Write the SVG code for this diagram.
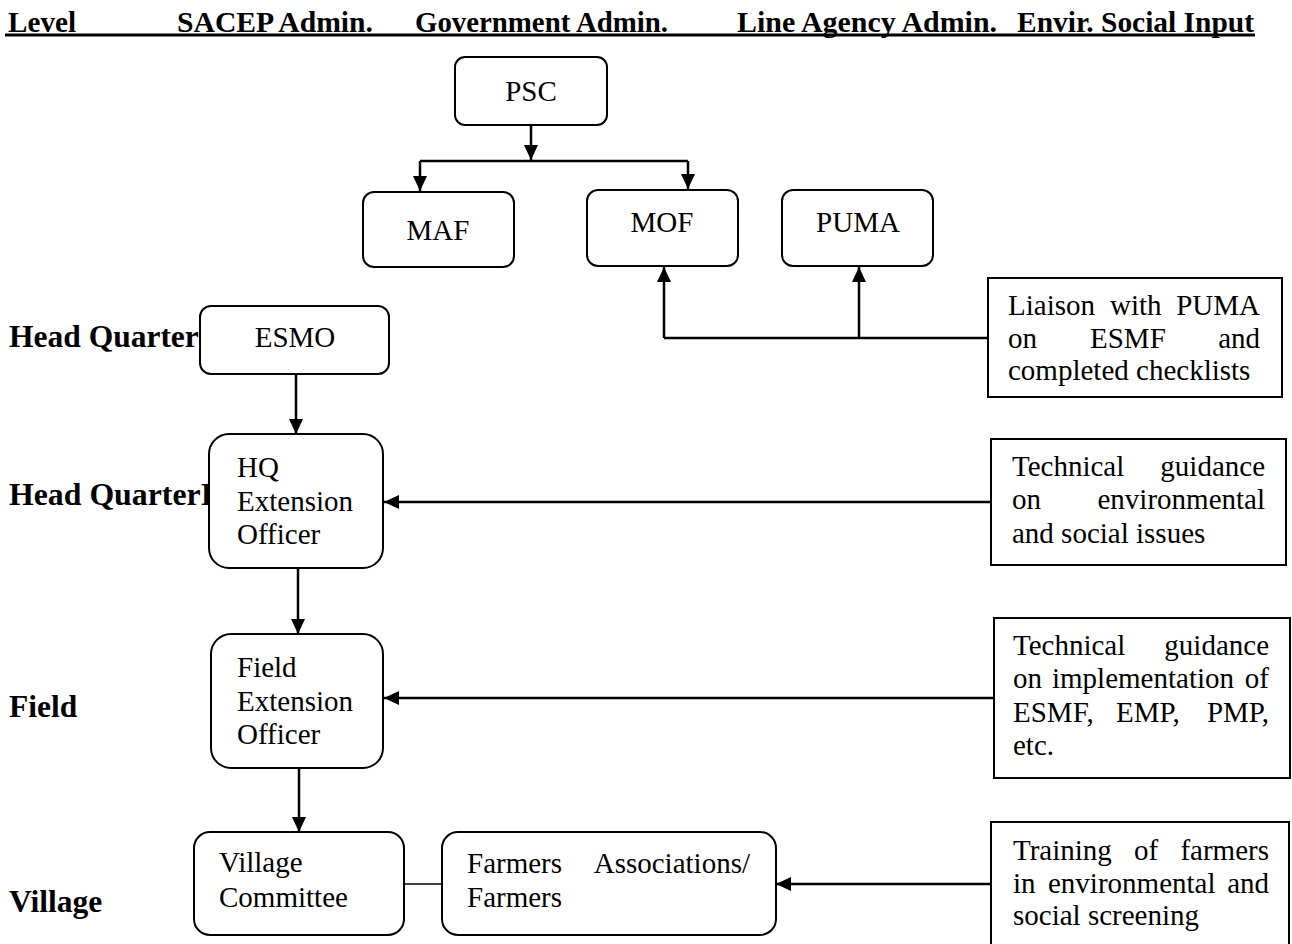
<svg xmlns="http://www.w3.org/2000/svg" width="1292" height="944" viewBox="0 0 1292 944">
<style>
text{font-family:"Liberation Serif","Times New Roman",serif;fill:#000}
.hd{font-size:29px;font-weight:bold}
.lv{font-size:31.5px;font-weight:bold}
.t{font-size:29px}
.box{fill:#fff;stroke:#000;stroke-width:2}
.sq{fill:#fff;stroke:#000;stroke-width:2}
.c{fill:none;stroke:#000;stroke-width:2.5}
.ca{fill:none;stroke:#000;stroke-width:2.5;marker-end:url(#ah)}
.thin{fill:none;stroke:#000;stroke-width:1.5}
</style>
<defs>
<marker id="ah" markerUnits="userSpaceOnUse" markerWidth="16" markerHeight="16" refX="15" refY="7" orient="auto">
<path d="M0,0 L15,7 L0,14 z" fill="#000"/>
</marker>
</defs>
<rect width="1292" height="944" fill="#fff"/>
<g id="header">
<text class="hd" x="8" y="32" textLength="68" lengthAdjust="spacingAndGlyphs">Level</text>
<text class="hd" x="177" y="32" textLength="196" lengthAdjust="spacingAndGlyphs">SACEP Admin.</text>
<text class="hd" x="415" y="32" textLength="253" lengthAdjust="spacingAndGlyphs">Government Admin.</text>
<text class="hd" x="737" y="32" textLength="260" lengthAdjust="spacingAndGlyphs">Line Agency Admin.</text>
<text class="hd" x="1017" y="32" textLength="237" lengthAdjust="spacingAndGlyphs">Envir. Social Input</text>
<line x1="5" y1="35" x2="1255" y2="35" stroke="#000" stroke-width="3"/>
</g>
<g id="levels">
<text class="lv" x="9" y="347">Head Quarter</text>
<text class="lv" x="9" y="505" textLength="204" lengthAdjust="spacingAndGlyphs">Head QuarterI</text>
<text class="lv" x="9" y="717">Field</text>
<text class="lv" x="9" y="912">Village</text>
</g>
<g id="connectors">
<path class="ca" d="M531,125 V160"/>
<path class="c" d="M420,161 H688"/>
<path class="ca" d="M420,161 V191"/>
<path class="ca" d="M688,161 V189"/>
<path class="c" d="M664,338 H988"/>
<path class="ca" d="M664,338 V267"/>
<path class="ca" d="M859,338 V267"/>
<path class="ca" d="M296,374 V434"/>
<path class="ca" d="M298,568 V634"/>
<path class="ca" d="M299,768 V832"/>
<path class="ca" d="M991,502 H384"/>
<path class="ca" d="M994,698 H384"/>
<path class="ca" d="M991,884 H776"/>
<path class="thin" d="M404,884 H442"/>
</g>
<g id="psc"><rect class="box" x="455" y="57" width="152" height="68" rx="10"/><text class="t" x="531" y="101" text-anchor="middle">PSC</text></g>
<g id="maf"><rect class="box" x="363" y="192" width="151" height="75" rx="11"/><text class="t" x="438" y="240" text-anchor="middle">MAF</text></g>
<g id="mof"><rect class="box" x="587" y="190" width="151" height="76" rx="11"/><text class="t" x="662" y="232" text-anchor="middle">MOF</text></g>
<g id="puma"><rect class="box" x="782" y="190" width="151" height="76" rx="11"/><text class="t" x="858" y="232" text-anchor="middle">PUMA</text></g>
<g id="esmo"><rect class="box" x="200" y="306" width="189" height="68" rx="11"/><text class="t" x="295" y="347" text-anchor="middle">ESMO</text></g>
<g id="hq-extension-officer"><rect class="box" x="209" y="434" width="174" height="134" rx="20"/>
<text class="t" x="237" y="477">HQ</text><text class="t" x="237" y="511">Extension</text><text class="t" x="237" y="544">Officer</text></g>
<g id="field-extension-officer"><rect class="box" x="211" y="634" width="172" height="134" rx="20"/>
<text class="t" x="237" y="677">Field</text><text class="t" x="237" y="711">Extension</text><text class="t" x="237" y="744">Officer</text></g>
<g id="village-committee"><rect class="box" x="194" y="832" width="210" height="103" rx="16"/>
<text class="t" x="219" y="872">Village</text><text class="t" x="219" y="907">Committee</text></g>
<g id="farmers"><rect class="box" x="442" y="832" width="334" height="103" rx="16"/>
<text class="t" x="467" y="873">Farmers</text><text class="t" x="750" y="873" text-anchor="end">Associations/</text>
<text class="t" x="467" y="907">Farmers</text></g>
<g id="liaison"><rect class="sq" x="988" y="278" width="294" height="119"/>
<text class="t" x="1008" y="315">Liaison</text><text class="t" x="1110" y="315">with</text><text class="t" x="1260" y="315" text-anchor="end">PUMA</text>
<text class="t" x="1008" y="348">on</text><text class="t" x="1090" y="348">ESMF</text><text class="t" x="1260" y="348" text-anchor="end">and</text>
<text class="t" x="1008" y="380">completed checklists</text></g>
<g id="tech-guidance-1"><rect class="sq" x="991" y="439" width="295" height="126"/>
<text class="t" x="1012" y="476">Technical</text><text class="t" x="1265" y="476" text-anchor="end">guidance</text>
<text class="t" x="1012" y="509">on</text><text class="t" x="1265" y="509" text-anchor="end">environmental</text>
<text class="t" x="1012" y="543">and social issues</text></g>
<g id="tech-guidance-2"><rect class="sq" x="994" y="618" width="296" height="160"/>
<text class="t" x="1013" y="655">Technical</text><text class="t" x="1269" y="655" text-anchor="end">guidance</text>
<text class="t" x="1013" y="688">on</text><text class="t" x="1052" y="688">implementation</text><text class="t" x="1269" y="688" text-anchor="end">of</text>
<text class="t" x="1013" y="722">ESMF,</text><text class="t" x="1116" y="722">EMP,</text><text class="t" x="1269" y="722" text-anchor="end">PMP,</text>
<text class="t" x="1013" y="755">etc.</text></g>
<g id="training"><rect class="sq" x="991" y="822" width="298" height="140"/>
<text class="t" x="1013" y="860">Training</text><text class="t" x="1134" y="860">of</text><text class="t" x="1269" y="860" text-anchor="end">farmers</text>
<text class="t" x="1013" y="893">in</text><text class="t" x="1048" y="893">environmental</text><text class="t" x="1269" y="893" text-anchor="end">and</text>
<text class="t" x="1013" y="925">social screening</text></g>
</svg>
